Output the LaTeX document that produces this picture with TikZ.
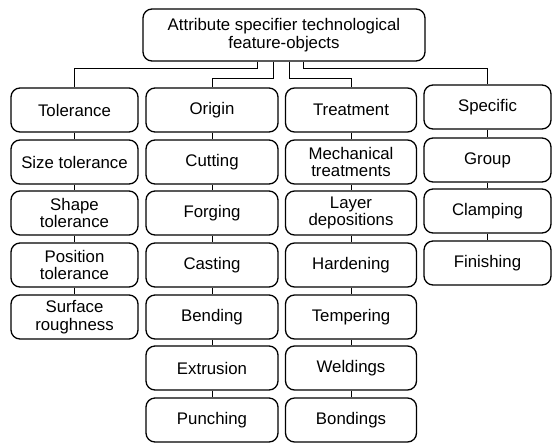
\documentclass[tikz,border=0pt]{standalone}
\usepackage{fontspec}
\setmainfont{Liberation Sans}
\begin{document}
\begin{tikzpicture}[x=1pt,y=-1pt,
  box/.style={draw, rounded corners=9pt, line width=1.3pt, align=center, inner sep=0pt,
    font=\fontsize{16.8}{17.5}\selectfont, minimum height=44pt},
  tolc/.style={box, minimum width=127pt},
  oric/.style={box, minimum width=132pt},
  trec/.style={box, minimum width=131pt},
  spec/.style={box, minimum width=127pt},
  link/.style={line width=1pt},
  tick/.style={line width=0.6pt}]
\useasboundingbox[fill=white] (0,0) rectangle (553,445);
\node[box, minimum width=282pt, minimum height=52pt] (top) at (284,35)
  {Attribute specifier technological\\feature-objects};
% Tolerance column
\node[tolc] (tol) at (74.5,110) {Tolerance};
\node[tolc] (t1) at (74.5,162) {Size tolerance};
\node[tolc] (t2) at (74.5,213) {Shape\\tolerance};
\node[tolc] (t3) at (74.5,265) {Position\\tolerance};
\node[tolc] (t4) at (74.5,317) {Surface\\roughness};
% Origin column
\node[oric] (ori) at (212,110) {Origin};
\node[oric] (o1) at (212,162) {Cutting};
\node[oric] (o2) at (212,213) {Forging};
\node[oric] (o3) at (212,265) {Casting};
\node[oric] (o4) at (212,317) {Bending};
\node[oric] (o5) at (212,368) {Extrusion};
\node[oric] (o6) at (212,420) {Punching};
% Treatment column
\node[trec] (tre) at (351,110) {Treatment};
\node[trec] (r1) at (351,162) {Mechanical\\treatments};
\node[trec] (r2) at (351,213) {Layer\\depositions};
\node[trec] (r3) at (351,265) {Hardening};
\node[trec] (r4) at (351,317) {Tempering};
\node[trec] (r5) at (351,368) {Weldings};
\node[trec] (r6) at (351,420) {Bondings};
% Specific column
\node[spec] (spe) at (487.5,107) {Specific};
\node[spec] (s1) at (487.5,160) {Group};
\node[spec] (s2) at (487.5,211) {Clamping};
\node[spec] (s3) at (487.5,263) {Finishing};
% connectors from top
\draw[link] ([xshift=-27pt]top.south) -- ++(0,7) -| (tol.north);
\draw[link] ([xshift=-11pt]top.south) -- ++(0,17) -| (ori.north);
\draw[link] ([xshift=5pt]top.south) -- ++(0,17) -| (tre.north);
\draw[link] ([xshift=19pt]top.south) -- ++(0,7) -| (spe.north);
% ticks between stacked boxes
\foreach \a/\b in {tol/t1,t1/t2,t2/t3,t3/t4,ori/o1,o1/o2,o2/o3,o3/o4,o4/o5,o5/o6,
  tre/r1,r1/r2,r2/r3,r3/r4,r4/r5,r5/r6,spe/s1,s1/s2,s2/s3}
  \draw[tick] (\a.south) -- (\b.north);
\end{tikzpicture}
\end{document}
